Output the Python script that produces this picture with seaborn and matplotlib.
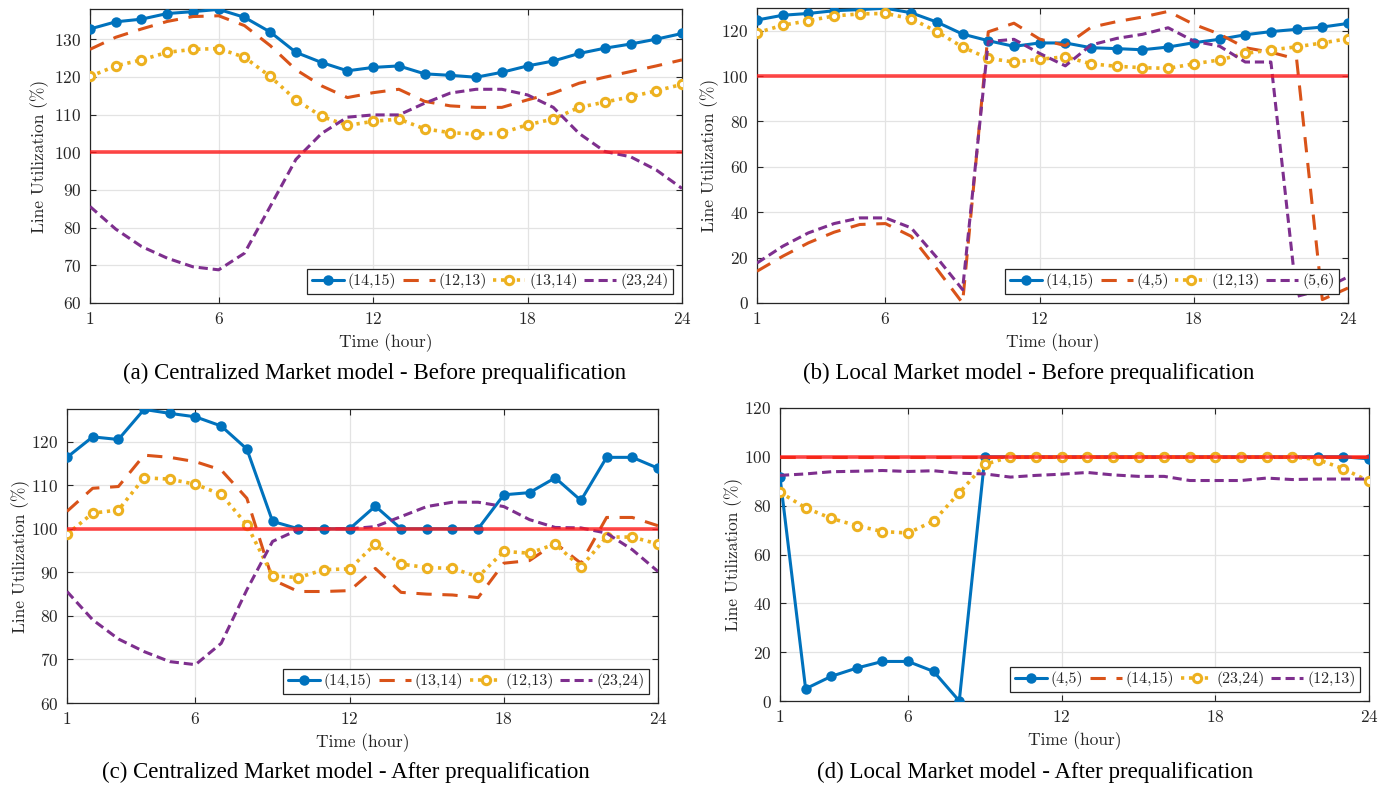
import matplotlib
matplotlib.use("Agg")
import matplotlib.pyplot as plt
import seaborn as sns
import numpy as np
import pandas as pd

# ---------------- data ----------------
hours = [1, 2, 3, 4, 5, 6, 7, 8, 9, 10, 11, 12, 13, 14, 15, 16, 17, 18, 19, 20, 21, 22, 23, 24]

# (a) Centralized - before prequalification
a_labels = ["(14,15)", "(12,13)", "(13,14)", "(23,24)"]
a_s1 = [132.7, 134.6, 135.3, 136.8, 137.3, 137.9, 135.8, 131.9, 126.5, 123.8, 121.6, 122.5,
        122.9, 120.8, 120.4, 119.9, 121.2, 122.9, 124.2, 126.2, 127.6, 128.7, 130.0, 131.5]
a_s2 = [127.3, 130.5, 132.7, 134.7, 136.0, 136.2, 133.6, 128.3, 121.9, 117.6, 114.5, 115.8,
        116.7, 113.5, 112.3, 111.9, 111.9, 113.9, 115.7, 118.3, 119.9, 121.4, 122.9, 124.5]
a_s3 = [120.1, 122.9, 124.5, 126.5, 127.3, 127.5, 125.2, 120.1, 113.9, 109.5, 107.1, 108.2,
        108.8, 106.2, 105.2, 104.8, 105.1, 107.3, 108.8, 111.9, 113.3, 114.7, 116.3, 118.0]
a_s4 = [85.6, 79.6, 75.0, 71.9, 69.6, 68.8, 73.2, 85.6, 98.1, 105.0, 109.3, 109.9,
        109.9, 113.0, 115.7, 116.7, 116.7, 115.2, 111.9, 105.0, 100.2, 98.8, 95.3, 90.4]

# (b) Local - before prequalification
b_labels = ["(14,15)", "(4,5)", "(12,13)", "(5,6)"]
b_s1 = [124.7, 126.8, 127.6, 128.8, 129.3, 129.9, 127.9, 123.8, 118.5, 115.6, 113.1, 114.6,
        114.6, 112.5, 112.1, 111.6, 112.8, 114.7, 116.2, 118.2, 119.6, 120.6, 121.6, 123.2]
b_s2 = [14.0, 20.6, 26.5, 31.2, 34.6, 35.0, 29.4, 15.0, 0.0, 119.5, 123.3, 116.3,
        113.4, 121.5, 124.0, 126.0, 128.5, 122.8, 118.5, 112.5, 110.5, 107.5, 1.5, 6.6]
b_s3 = [119.1, 122.4, 124.4, 126.5, 127.4, 127.6, 125.3, 119.6, 112.8, 107.8, 106.2, 107.4,
        108.5, 105.4, 104.3, 103.7, 103.4, 105.4, 107.1, 110.0, 111.5, 112.9, 114.6, 116.5]
b_s4 = [17.6, 25.0, 30.9, 35.0, 37.5, 37.5, 33.1, 20.0, 5.9, 115.2, 116.2, 110.0,
        104.5, 113.7, 116.6, 118.4, 121.3, 115.4, 113.2, 106.2, 106.2, 2.9, 5.9, 11.5]

# (c) Centralized - after prequalification
c_labels = ["(14,15)", "(13,14)", "(12,13)", "(23,24)"]
c_s1 = [116.4, 121.1, 120.5, 127.4, 126.5, 125.7, 123.6, 118.3, 101.7, 100.0, 100.0, 100.0,
        105.2, 100.0, 100.0, 100.0, 100.0, 107.8, 108.3, 111.7, 106.5, 116.4, 116.4, 113.9]
c_s2 = [104.0, 109.3, 109.7, 116.9, 116.4, 115.4, 113.5, 107.0, 88.3, 85.6, 85.6, 85.8,
        90.9, 85.4, 85.0, 84.8, 84.2, 92.1, 92.7, 96.7, 92.1, 102.6, 102.6, 100.7]
c_s3 = [98.7, 103.6, 104.3, 111.7, 111.4, 110.2, 107.9, 100.9, 89.2, 88.8, 90.6, 90.8,
        96.5, 91.9, 91.1, 90.9, 89.0, 94.8, 94.4, 96.5, 91.2, 98.1, 98.1, 96.5]
c_s4 = [85.6, 79.1, 74.7, 71.8, 69.5, 68.8, 73.7, 86.0, 97.1, 99.8, 100.0, 100.0,
        100.5, 102.8, 105.1, 106.1, 106.1, 105.1, 102.1, 100.3, 100.2, 99.0, 95.2, 90.2]

# (d) Local - after prequalification
d_labels = ["(4,5)", "(14,15)", "(23,24)", "(12,13)"]
d_s1 = [91.7, 5.0, 10.1, 13.5, 16.2, 16.2, 12.1, 0.0, 100.0, 100.0, 100.0, 100.0,
        100.0, 100.0, 100.0, 100.0, 100.0, 100.0, 100.0, 100.0, 100.0, 100.0, 100.0, 99.2]
d_s2 = [100.0, 100.0, 100.0, 100.0, 100.0, 100.0, 100.0, 100.0, 100.0, 100.0, 100.0, 100.0,
        100.0, 100.0, 100.0, 100.0, 100.0, 100.0, 100.0, 100.0, 100.0, 100.0, 100.0, 100.0]
d_s3 = [85.5, 79.1, 74.8, 71.8, 69.4, 68.8, 73.7, 85.3, 96.9, 100.0, 100.0, 100.0,
        100.0, 100.0, 100.0, 100.0, 100.0, 100.0, 100.0, 100.0, 100.0, 98.9, 95.1, 90.0]
d_s4 = [92.4, 93.0, 93.9, 94.1, 94.4, 94.0, 94.3, 93.3, 93.0, 91.7, 92.4, 92.9,
        93.6, 92.6, 92.0, 92.0, 90.3, 90.3, 90.3, 91.3, 90.7, 90.9, 90.9, 90.9]

limit_value = 100
x_ticks = [1, 6, 12, 18, 24]

captions = ["(a) Centralized Market model - Before prequalification",
            "(b) Local Market model - Before prequalification",
            "(c) Centralized Market model - After prequalification",
            "(d) Local Market model - After prequalification"]

# ---------------- style ----------------
sns.set_theme(style="white")
plt.rcParams["font.family"] = ["cmr10", "DejaVu Serif"]
plt.rcParams["axes.unicode_minus"] = False
plt.rcParams["mathtext.fontset"] = "cm"
plt.rcParams["axes.formatter.use_mathtext"] = True

BLUE, ORANGE, YELLOW, PURPLE = "#0072BD", "#D95319", "#EDB120", "#7E2F8E"
TXT = "#262626"

fig = plt.figure(figsize=(13.95, 7.87), dpi=100)

# axes rectangles in pixels: left, top, right, bottom
W, H = 1395, 787
rects = [(90, 9, 682, 303), (757, 8, 1348, 303), (67, 409, 658, 703), (780, 408, 1369, 701)]
ylims = [(60, 138), (0, 130), (60, 127.5), (0, 120)]
yticks = [list(range(60, 131, 10)), list(range(0, 121, 20)),
          list(range(60, 121, 10)), list(range(0, 121, 20))]
ylabel_x = [-0.069, -0.064, -0.063, -0.063]
cap_pos = [(375, 373), (1029, 373), (346, 772), (1035, 772)]

panels = [
    (a_labels, [a_s1, a_s2, a_s3, a_s4]),
    (b_labels, [b_s1, b_s2, b_s3, b_s4]),
    (c_labels, [c_s1, c_s2, c_s3, c_s4]),
    (d_labels, [d_s1, d_s2, d_s3, d_s4]),
]

for i, (labels, series) in enumerate(panels):
    l, t, r, b = rects[i]
    ax = fig.add_axes([l / W, 1 - b / H, (r - l) / W, (b - t) / H])

    # series 1: blue solid with circles
    sns.lineplot(x=hours, y=series[0], ax=ax, color=BLUE, lw=2.2, marker="o", ms=6,
                 markerfacecolor=BLUE, markeredgecolor=BLUE, markeredgewidth=1.5,
                 label=labels[0], zorder=3)
    # series 2: orange long dashes
    sns.lineplot(x=hours, y=series[1], ax=ax, color=ORANGE, lw=2.2, label=labels[1], zorder=3)
    ax.lines[-1].set_dashes((5, 3.5))
    # series 3: yellow dotted with open circles
    sns.lineplot(x=hours, y=series[2], ax=ax, color=YELLOW, lw=2.6, marker="o", ms=6,
                 markerfacecolor="white", markeredgecolor=YELLOW, markeredgewidth=2.2,
                 label=labels[2], zorder=3)
    ax.lines[-1].set_dashes((0.9, 1.3))
    # series 4: purple short dashes
    sns.lineplot(x=hours, y=series[3], ax=ax, color=PURPLE, lw=2.2, label=labels[3], zorder=3)
    ax.lines[-1].set_dashes((3, 1.6))

    ax.axhline(limit_value, color="#FF1A1A", lw=2.6, alpha=0.8, zorder=4)

    ax.set_xlim(1, 24)
    ax.set_ylim(*ylims[i])
    ax.set_xticks(x_ticks)
    ax.set_yticks(yticks[i])
    ax.grid(True, color="#E3E3E3", lw=0.9)
    ax.set_axisbelow(True)
    for s in ax.spines.values():
        s.set_color(TXT)
        s.set_linewidth(0.9)
    ax.tick_params(direction="in", length=4, width=0.8, colors=TXT, labelsize=12.5,
                   top=True, right=True, bottom=True, left=True, pad=6)
    ax.set_xlabel("Time (hour)", fontsize=12.5, color=TXT, labelpad=4)
    ax.set_ylabel("Line Utilization (%)", fontsize=12.5, color=TXT)
    ax.yaxis.set_label_coords(ylabel_x[i], 0.5)

    leg = ax.legend(loc="lower right", ncol=4, fontsize=11.5, frameon=True, fancybox=False,
                    edgecolor=TXT, framealpha=1, handlelength=2.0, handletextpad=0.25,
                    columnspacing=0.4, borderpad=0.3, borderaxespad=0.55)
    leg.get_frame().set_linewidth(0.9)
    for txt in leg.get_texts():
        txt.set_color(TXT)

    cx, cy = cap_pos[i]
    fig.text(cx / W, 1 - cy / H, captions[i], ha="center", va="center",
             fontsize=16.5, family=["Liberation Serif", "DejaVu Serif"], color="black")

fig.savefig("out.png", dpi=100)
